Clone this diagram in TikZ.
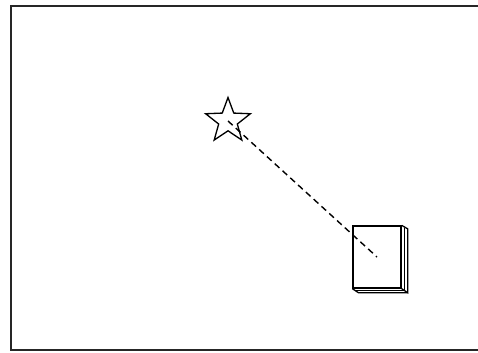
\documentclass[tikz,border=0pt]{standalone}
\usepackage{tikz}
\usetikzlibrary{shapes.geometric,positioning,calc}

\begin{document}
\begin{tikzpicture}[
    frame/.style={line width=0.9pt, black!85},
    starmark/.style={draw, star, star points=5, star point ratio=2.4, minimum size=0.94cm, inner sep=0pt, line width=0.75pt},
    bookbox/.style={draw, rectangle, minimum width=0.96cm, minimum height=1.24cm, inner sep=0pt, line width=0.75pt},
    sight/.style={line width=0.8pt, dash pattern=on 3.6pt off 2.4pt}
]
\useasboundingbox (0,0) rectangle (9.56,7.04);
\draw[frame] (9.56,6.92) -- (0.22,6.92) -- (0.22,0.04) -- (9.56,0.04);

\node[starmark] (star) at (4.56,4.62) {};
\node[bookbox] (book) at (7.54,1.90) {};

% side and bottom faces
\draw[line width=0.75pt] (book.north east) -- ++(0.12,-0.07) coordinate (backtop)
    -- ($(book.south east)+(0.12,-0.08)$) coordinate (backbot) -- (book.south east);
\draw[line width=0.75pt] (book.south west) -- ++(0.12,-0.08) -- (backbot);
\draw[line width=0.3pt] ($(book.north east)+(0.06,-0.06)$) -- ($(book.south east)+(0.06,-0.04)$);
\draw[line width=0.3pt] ($(book.south west)+(0.08,-0.04)$) -- ($(book.south east)+(0.04,-0.04)$);

\draw[sight] (star.center) -- (book.center);
\end{tikzpicture}
\end{document}
